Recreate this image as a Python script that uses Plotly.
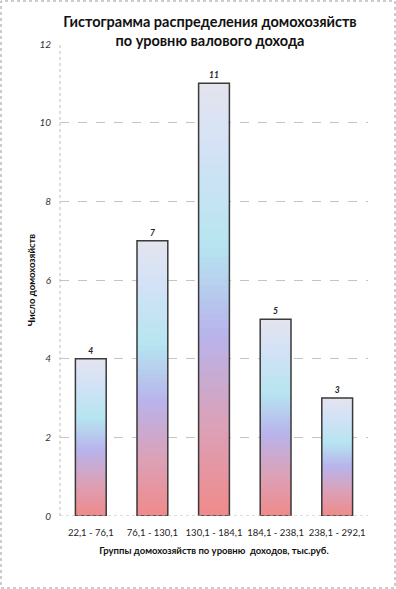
import plotly.graph_objects as go

categories = ["22,1 - 76,1", "76,1 - 130,1", "130,1 - 184,1", "184,1 - 238,1", "238,1 - 292,1"]
counts = [4, 7, 11, 5, 3]
y_ticks = [0, 2, 4, 6, 8, 10, 12]

title_text = "Гистограмма распределения домохозяйств<br>по уровню валового дохода"
x_title = "Группы домохозяйств по уровню  доходов, тыс.руб."
y_title = "Число домохозяйств"

# gradient stops from bar bottom (0) to bar top (1)
grad_stops = [
    (0.00, (240, 138, 138)),
    (0.22, (218, 162, 186)),
    (0.42, (184, 180, 236)),
    (0.62, (182, 228, 240)),
    (0.85, (212, 226, 246)),
    (1.00, (228, 228, 238)),
]

def grad_color(t):
    for (t0, c0), (t1, c1) in zip(grad_stops[:-1], grad_stops[1:]):
        if t0 <= t <= t1:
            f = (t - t0) / (t1 - t0) if t1 > t0 else 0
            c = [round(a + (b - a) * f) for a, b in zip(c0, c1)]
            return f"rgb({c[0]},{c[1]},{c[2]})"
    c = grad_stops[-1][1]
    return f"rgb({c[0]},{c[1]},{c[2]})"

W, H = 396, 589
ML, MR, MT, MB = 60, 28, 44, 73
BAR_W = 0.5
N = 60

fig = go.Figure()

# painter's gradient: tallest (top colour) first, shorter ones drawn over it
for k in range(N - 1, -1, -1):
    t = (k + 0.5) / N
    fig.add_trace(go.Bar(
        x=categories,
        y=[v * (k + 1) / N for v in counts],
        width=BAR_W,
        marker=dict(color=grad_color(t), line=dict(width=0)),
        hoverinfo="skip",
        showlegend=False,
    ))

# outline + labels
fig.add_trace(go.Bar(
    x=categories,
    y=counts,
    width=BAR_W,
    marker=dict(color="rgba(0,0,0,0)", line=dict(color="#3a3a3a", width=1.5)),
    text=[str(v) for v in counts],
    textposition="outside",
    textfont=dict(family="Lato", size=8.5, color="#222222", style="italic", weight="bold"),
    cliponaxis=False,
    showlegend=False,
))

pw = W - ML - MR
ph = H - MT - MB

fig.update_layout(
    width=W, height=H,
    margin=dict(l=ML, r=MR, t=MT, b=MB),
    paper_bgcolor="white",
    plot_bgcolor="white",
    barmode="overlay",
    title=dict(
        text=title_text,
        x=210 / W, xanchor="center", xref="container",
        y=1 - 27 / H, yanchor="middle", yref="container",
        font=dict(family="Lato", size=14.5, color="#111111", weight="bold"),
    ),
    font=dict(family="Lato", color="#222222"),
    xaxis=dict(
        type="category",
        automargin=False,
        tickangle=0,
        ticklabelstandoff=9,
        tickfont=dict(family="Lato", size=9.5, color="#222222"),
        ticks="", showline=False, showgrid=False,
        title=dict(text=x_title, standoff=10,
                   font=dict(family="Lato", size=9.5, color="#111111", weight="bold")),
    ),
    yaxis=dict(
        automargin=False,
        range=[0, 12],
        tickvals=y_ticks,
        ticktext=[str(v) for v in y_ticks],
        ticklabelstandoff=8,
        tickfont=dict(family="Lato", size=10, color="#333333", style="italic"),
        ticks="", ticklen=0,
        showgrid=True, gridcolor="#c4c4c4", griddash="dash", gridwidth=1,
        zeroline=False, showline=False,
        title=dict(text=y_title, standoff=2,
                   font=dict(family="Lato", size=9.5, color="#111111", weight="bold")),
    ),
    shapes=[
        dict(type="line", xref="paper", yref="paper", x0=0, x1=0, y0=0, y1=1,
             line=dict(color="#bdbdbd", width=1, dash="dot")),
        dict(type="line", xref="paper", yref="y", x0=0, x1=1, y0=0, y1=0,
             line=dict(color="#bdbdbd", width=1, dash="dot"), layer="above"),
        dict(type="rect", xref="paper", yref="paper",
             x0=-(ML - 1) / pw, x1=1 + (MR - 1) / pw,
             y0=-(MB - 1) / ph, y1=1 + (MT - 1) / ph,
             line=dict(color="#9a9a9a", width=1, dash="dot")),
    ],
)

fig.write_html(
    "out.html",
    config={"displayModeBar": False},
    post_script="document.body.style.margin='0';document.body.style.overflow='hidden';",
)
